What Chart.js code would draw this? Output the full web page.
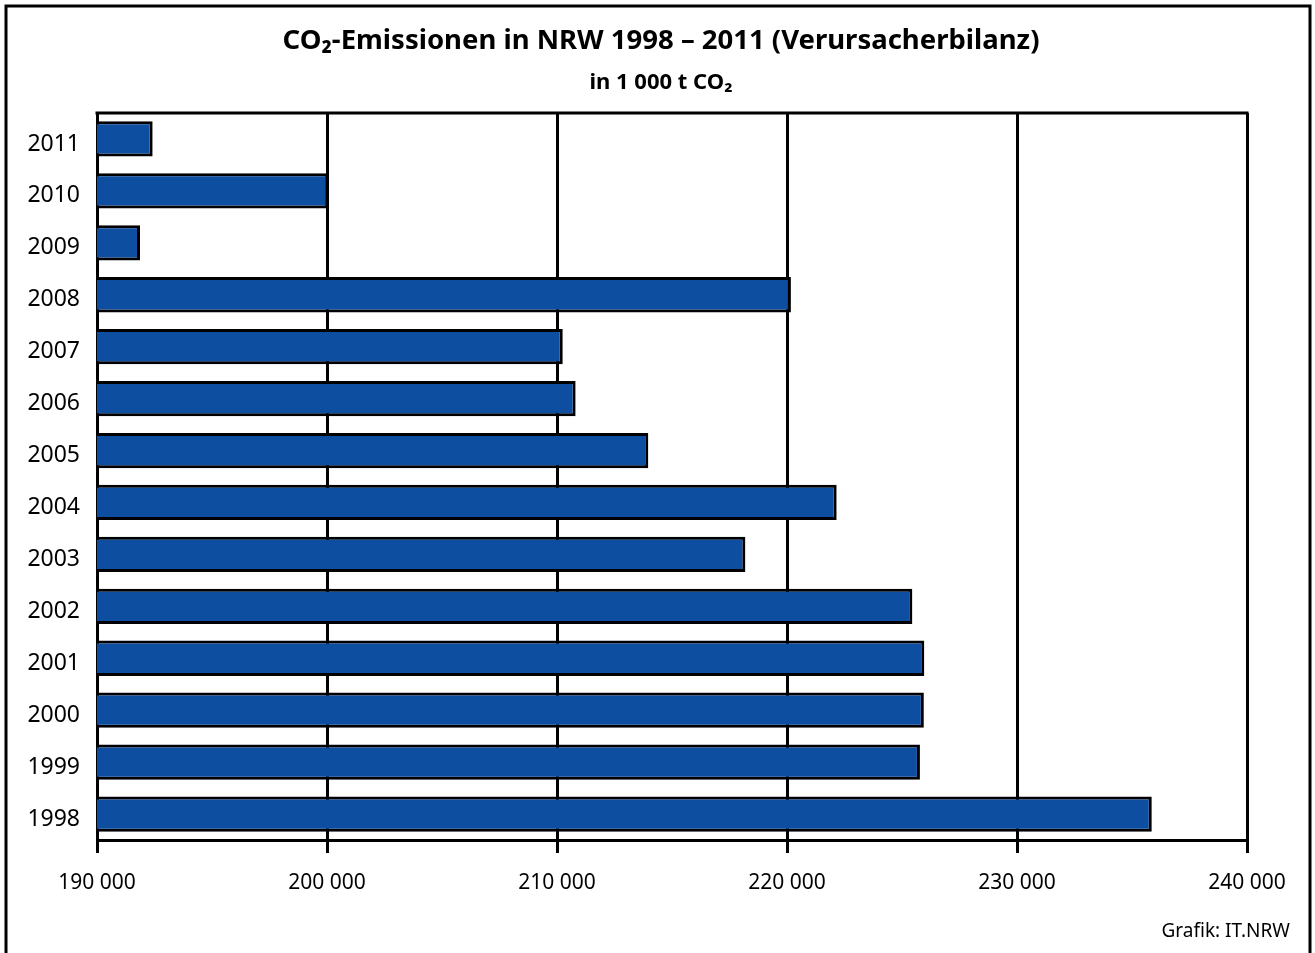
<!DOCTYPE html>
<html>
<head>
<meta charset="utf-8">
<script src="https://cdn.jsdelivr.net/npm/chart.js@4"></script>
<style>
  html, body { margin: 0; padding: 0; background: #ffffff; }
  #wrap { position: relative; width: 1315px; height: 953px; }
</style>
</head>
<body>
<div id="wrap"><canvas id="c" width="1315" height="953"></canvas></div>
<script>
const years = ['1998','1999','2000','2001','2002','2003','2004','2005','2006','2007','2008','2009','2010','2011'];
const emissions = [235860, 225780, 225950, 225970, 225450, 218190, 222160, 213970, 210810, 210250, 220170, 191870, 200050, 192420];
const xTicks = [190000, 200000, 210000, 220000, 230000, 240000];
const titleText = 'CO\u2082-Emissionen in NRW 1998 \u2013 2011 (Verursacherbilanz)';
const subtitleText = 'in 1 000 t CO\u2082';
const sourceText = 'Grafik: IT.NRW';

const FONT = "'Noto Sans', 'Open Sans', 'DejaVu Sans', sans-serif";

function fmt(v) {
  return String(v).replace(/\B(?=(\d{3})+(?!\d))/g, ' ');
}

const framePlugin = {
  id: 'framePlugin',
  afterDraw(chart) {
    const ctx = chart.ctx;
    const a = chart.chartArea;
    const yScale = chart.scales.y;
    ctx.save();
    // outer frame
    ctx.strokeStyle = '#000';
    ctx.lineWidth = 3;
    ctx.strokeRect(6, 6, 1304, 1000);
    // top border of plot area
    ctx.beginPath();
    ctx.moveTo(a.left - 1.5, a.top);
    ctx.lineTo(a.right + 1.5, a.top);
    ctx.stroke();
    // title + subtitle
    ctx.fillStyle = '#000';
    ctx.textAlign = 'center';
    ctx.textBaseline = 'middle';
    ctx.font = 'bold 27.5px ' + FONT;
    ctx.fillText(titleText, 661, 41);
    ctx.font = 'bold 22px ' + FONT;
    ctx.fillText(subtitleText, 661, 83);
    // category labels (years), positioned by the category scale
    ctx.font = '23px ' + FONT;
    ctx.textAlign = 'right';
    years.forEach((yr, i) => {
      const py = yScale.getPixelForValue(i);
      ctx.fillText(yr, a.left - 17, py + 5);
    });
    // source text
    ctx.font = '19px ' + FONT;
    ctx.textAlign = 'right';
    ctx.fillText(sourceText, 1290, 932);
    ctx.restore();
  }
};

new Chart(document.getElementById('c'), {
  type: 'bar',
  data: {
    labels: years,
    datasets: [{
      data: emissions,
      backgroundColor: '#0e4ea0',
      borderColor: '#000000',
      borderWidth: 3,
      borderSkipped: false,
      barPercentage: 0.68,
      categoryPercentage: 1.0
    }]
  },
  options: {
    indexAxis: 'y',
    responsive: false,
    animation: false,
    devicePixelRatio: 1,
    layout: { padding: { top: 113, left: 10, right: 68, bottom: 0 } },
    plugins: {
      legend: { display: false },
      tooltip: { enabled: false },
      title: { display: false },
      subtitle: { display: false }
    },
    scales: {
      x: {
        type: 'linear',
        min: 190000,
        max: 240000,
        afterBuildTicks(scale) {
          scale.ticks = xTicks.map(v => ({ value: v }));
        },
        afterFit(scale) { scale.height = 113; },
        grid: {
          color: '#000',
          lineWidth: 3,
          drawTicks: true,
          tickLength: 13,
          tickColor: '#000'
        },
        border: { display: true, color: '#000', width: 3 },
        ticks: {
          color: '#000',
          font: { family: FONT, size: 21 },
          padding: 17,
          maxRotation: 0,
          callback: (v) => fmt(v)
        }
      },
      y: {
        reverse: true,
        afterFit(scale) { scale.width = 87; },
        grid: { display: false, drawTicks: false },
        border: { display: true, color: '#000', width: 3 },
        ticks: { display: false }
      }
    }
  },
  plugins: [framePlugin]
});
</script>
</body>
</html>
